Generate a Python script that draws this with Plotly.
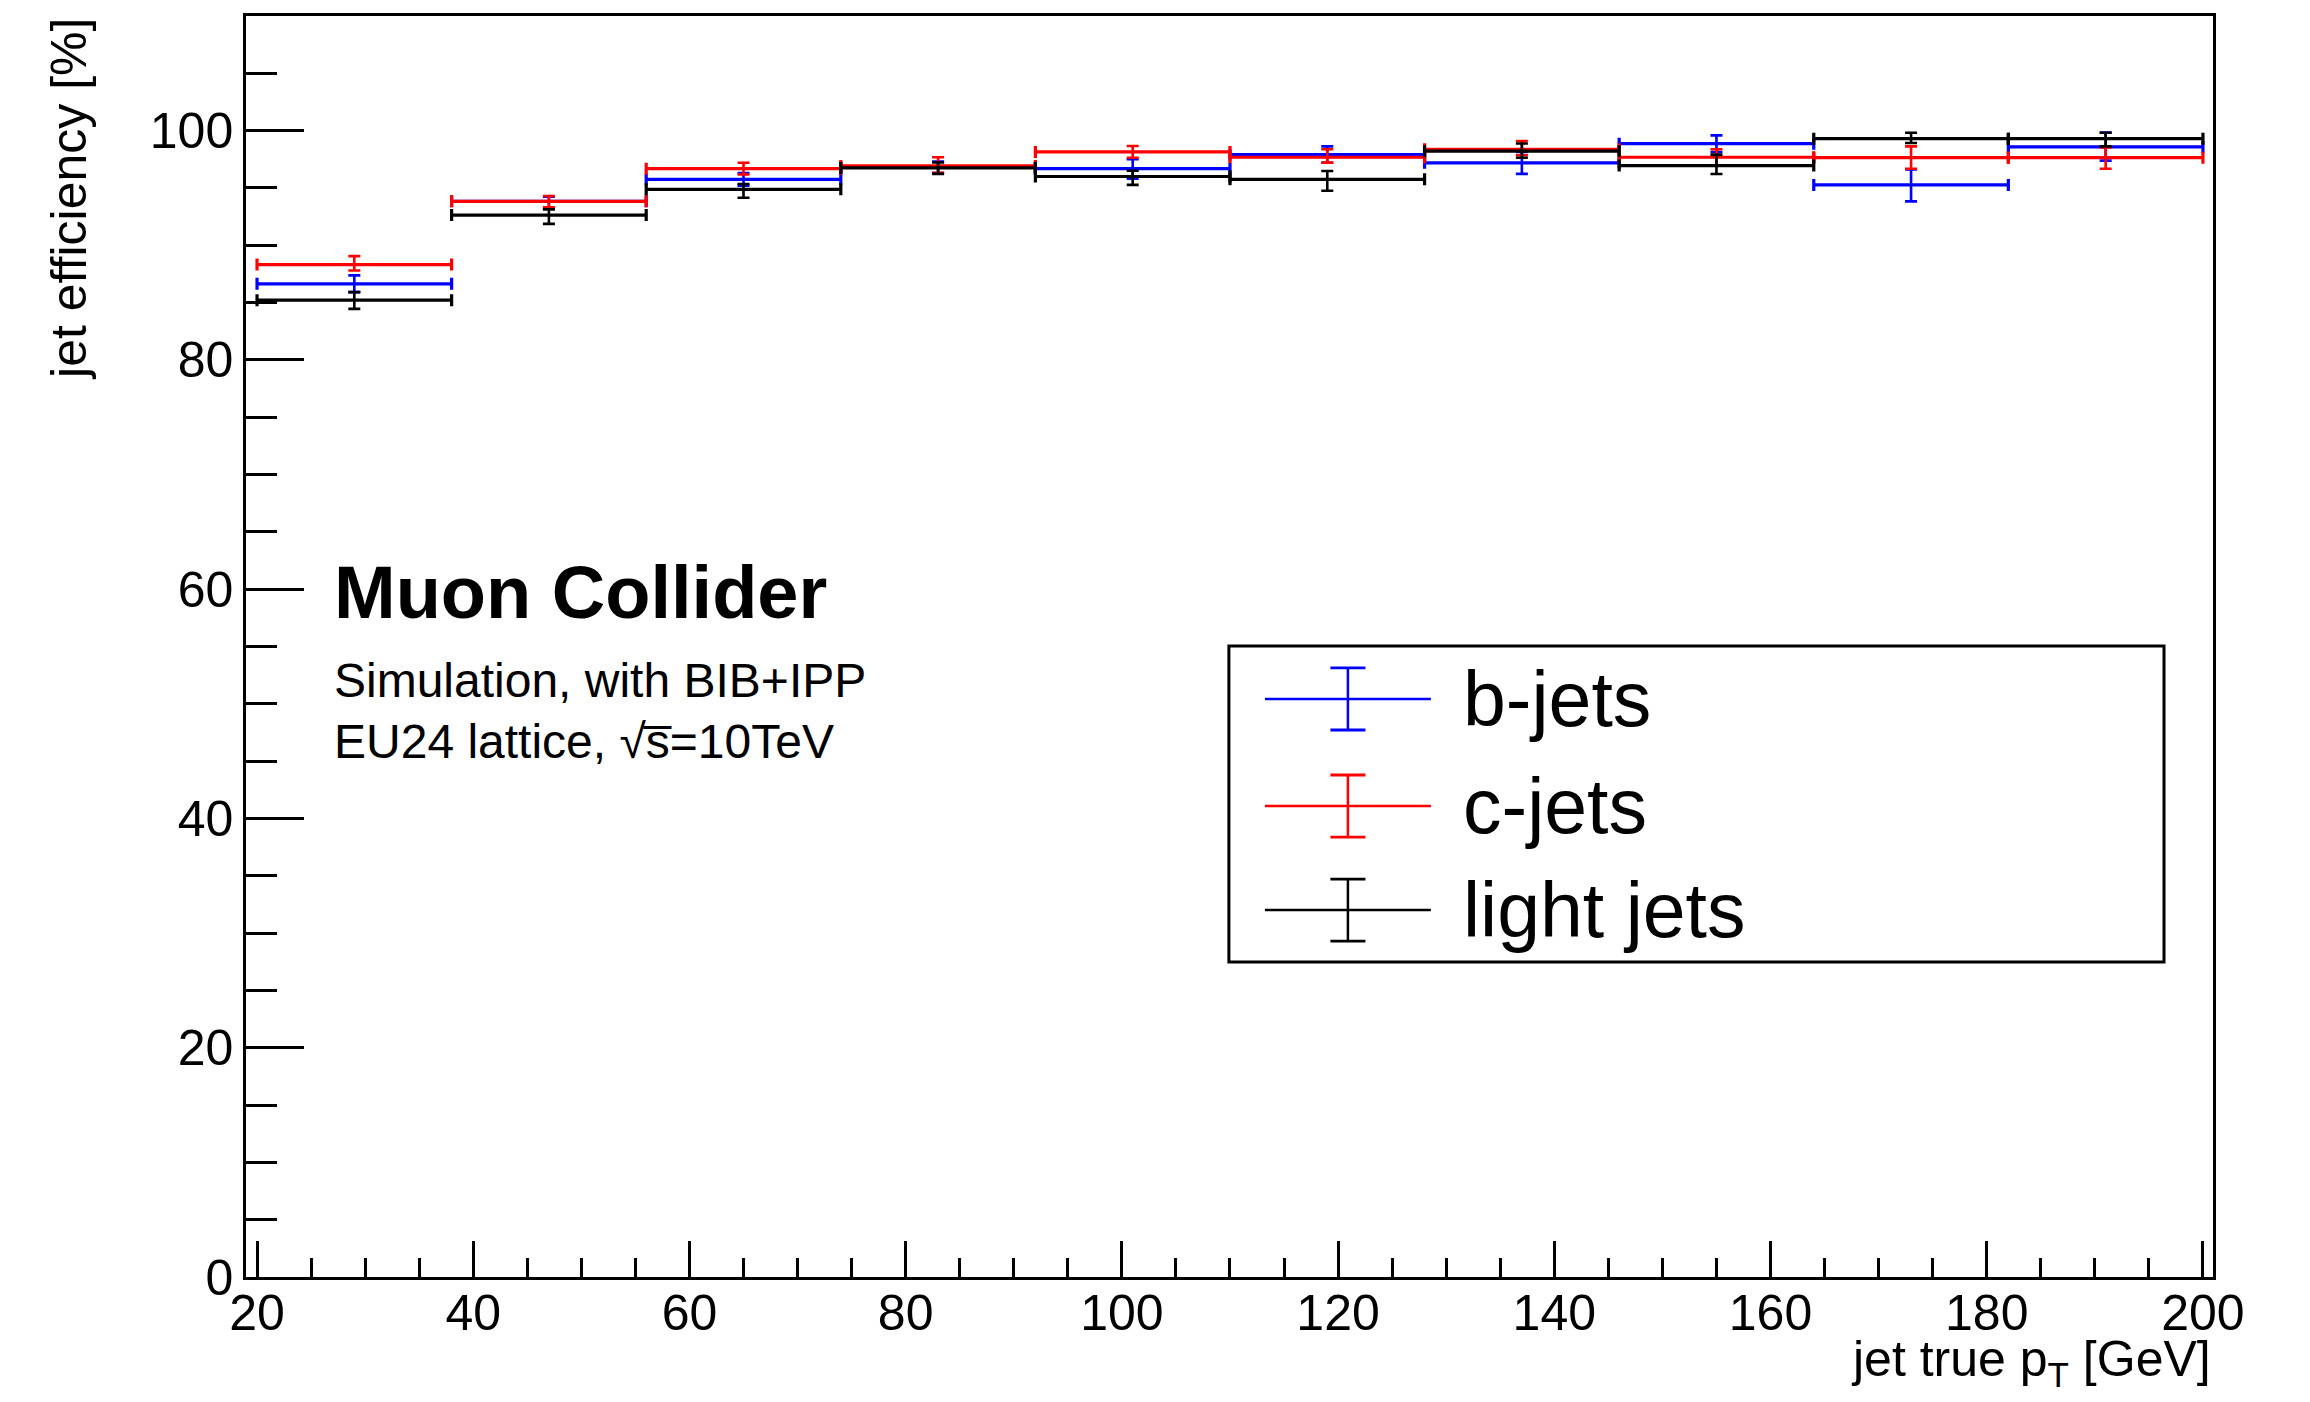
import plotly.graph_objects as go

# ---- data ----
pt_edges = [20, 38, 56, 74, 92, 110, 128, 146, 164, 182, 200]

b_eff = [86.64, 93.83, 95.75, 96.80, 96.68, 97.90, 97.19, 98.86, 95.26, 98.58]
b_up = [0.73, 0.40, 0.55, 0.50, 0.82, 0.73, 0.96, 0.73, 1.35, 1.25]
b_dn = [0.73, 0.64, 0.55, 0.50, 0.87, 0.70, 0.96, 0.73, 1.43, 1.20]

c_eff = [88.32, 93.83, 96.68, 96.92, 98.14, 97.68, 98.37, 97.68, 97.64, 97.64]
c_up = [0.73, 0.47, 0.52, 0.76, 0.52, 0.70, 0.73, 0.70, 0.99, 0.90]
c_dn = [0.52, 0.52, 0.50, 0.60, 0.50, 0.47, 0.52, 0.70, 0.96, 0.96]

l_eff = [85.21, 92.63, 94.88, 96.75, 96.00, 95.75, 98.21, 96.95, 99.30, 99.30]
l_up = [0.70, 0.50, 0.47, 0.47, 0.50, 0.73, 0.67, 0.96, 0.52, 0.52]
l_dn = [0.76, 0.76, 0.73, 0.52, 0.73, 0.99, 0.58, 0.73, 0.38, 0.67]

series_names = ["b-jets", "c-jets", "light jets"]
series_colors = ["#0000ff", "#ff0000", "#000000"]

x_ticks = [20, 40, 60, 80, 100, 120, 140, 160, 180, 200]
y_ticks = [0, 20, 40, 60, 80, 100]

centers = [(pt_edges[i] + pt_edges[i + 1]) / 2 for i in range(len(pt_edges) - 1)]
halfw = [(pt_edges[i + 1] - pt_edges[i]) / 2 for i in range(len(pt_edges) - 1)]

FONT = "Liberation Sans, Arial, Helvetica, sans-serif"

fig = go.Figure()
for name, col, eff, up, dn in zip(series_names, series_colors,
                                  [b_eff, c_eff, l_eff],
                                  [b_up, c_up, l_up],
                                  [b_dn, c_dn, l_dn]):
    fig.add_trace(go.Scatter(
        x=centers, y=eff, mode="markers", name=name,
        marker=dict(size=2, color=col),
        error_x=dict(type="data", array=halfw, symmetric=True,
                     color=col, thickness=3.2, width=6),
        error_y=dict(type="data", array=up, arrayminus=dn, symmetric=False,
                     color=col, thickness=2.6, width=6),
        showlegend=False,
    ))

axis_common = dict(
    showline=True, linecolor="black", linewidth=2.5, mirror=True,
    showgrid=False, zeroline=False,
    ticks="inside", tickcolor="black", tickwidth=2.5,
    tickfont=dict(family=FONT, size=50, color="black"),
)

fig.update_xaxes(range=[18.98, 200.93], tickvals=x_ticks, ticklen=36,
                 ticklabelstandoff=-10,
                 minor=dict(dtick=5, tick0=0, ticks="inside", ticklen=19,
                            tickwidth=2.5, tickcolor="black"),
                 **axis_common)
fig.update_yaxes(range=[0, 110], tickvals=y_ticks, ticklen=58,
                 minor=dict(dtick=5, tick0=0, ticks="inside", ticklen=31,
                            tickwidth=2.5, tickcolor="black"),
                 **axis_common)

# ---- legend drawn manually (ROOT-style box) ----
shapes = [dict(type="rect", xref="paper", yref="paper",
               x0=0.4997, x1=0.9751, y0=0.2498, y1=0.5004,
               line=dict(color="black", width=3), fillcolor="white", layer="above")]
annos = []
leg_y = [0.4584, 0.3735, 0.2910]
for name, col, yy in zip(series_names, series_colors, leg_y):
    shapes.append(dict(type="line", xref="paper", yref="paper",
                       x0=0.518, x1=0.6024, y0=yy, y1=yy,
                       line=dict(color=col, width=2.5), layer="above"))
    shapes.append(dict(type="line", xref="paper", yref="paper",
                       x0=0.5602, x1=0.5602, y0=yy - 0.0246, y1=yy + 0.0246,
                       line=dict(color=col, width=2.5), layer="above"))
    for s in (-1, 1):
        shapes.append(dict(type="line", xref="paper", yref="paper",
                           x0=0.5602 - 0.0089, x1=0.5602 + 0.0089,
                           y0=yy + s * 0.0246, y1=yy + s * 0.0246,
                           line=dict(color=col, width=2.8), layer="above"))
    annos.append(dict(text=name, xref="paper", yref="paper", x=0.6175, y=yy,
                      xanchor="left", yanchor="middle", showarrow=False,
                      font=dict(family=FONT, size=77, color="black")))

# ---- labels ----
annos.append(dict(text="<b>Muon Collider</b>", xref="paper", yref="paper",
                  x=0.0438, y=0.5432, xanchor="left", yanchor="middle",
                  showarrow=False, font=dict(family=FONT, size=74, color="black")))
annos.append(dict(text="Simulation, with BIB+IPP", xref="paper", yref="paper",
                  x=0.0438, y=0.4729, xanchor="left", yanchor="middle",
                  showarrow=False, font=dict(family=FONT, size=48, color="black")))
annos.append(dict(text="EU24 lattice, \u221as\u0305=10TeV",
                  xref="paper", yref="paper",
                  x=0.0438, y=0.4245, xanchor="left", yanchor="middle",
                  showarrow=False, font=dict(family=FONT, size=48, color="black")))
annos.append(dict(text="jet efficiency [%]", xref="paper", yref="paper",
                  x=-0.09, y=1.0, xanchor="center", yanchor="top", textangle=-90,
                  showarrow=False, font=dict(family=FONT, size=50, color="black")))
annos.append(dict(text="jet true p<sub>T</sub> [GeV]", xref="paper", yref="paper",
                  x=1.0, y=-0.068, xanchor="right", yanchor="middle",
                  showarrow=False, font=dict(family=FONT, size=50, color="black")))

fig.update_layout(
    width=2310, height=1402,
    margin=dict(l=246, r=97, t=16, b=125, pad=0),
    paper_bgcolor="white", plot_bgcolor="white",
    showlegend=False,
    shapes=shapes, annotations=annos,
    font=dict(family=FONT, color="black"),
)

fig.write_html("out.html")
